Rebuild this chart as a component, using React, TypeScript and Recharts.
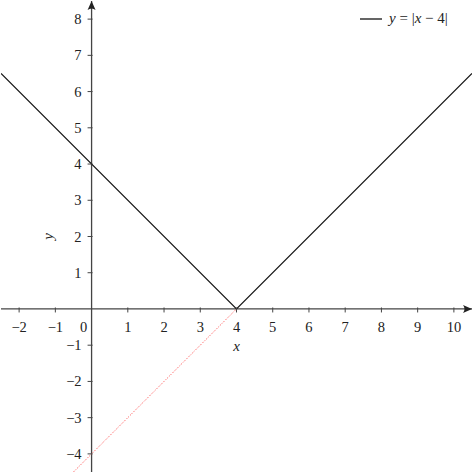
import React from "react";
import {
  ComposedChart,
  Line,
  XAxis,
  YAxis,
  ReferenceLine,
  ReferenceDot,
  Legend,
} from "recharts";

// ---- data ----
const absLine = [
  { x: -2.5, y: 6.5 },
  { x: 4, y: 0 },
  { x: 10.5, y: 6.5 },
];
const redLine = [
  { x: -0.5, y: -4.5 },
  { x: 4, y: 0 },
];
const xTicks = [-2, -1, 1, 2, 3, 4, 5, 6, 7, 8, 9, 10];
const yTicks = [-4, -3, -2, -1, 1, 2, 3, 4, 5, 6, 7, 8];
const xDomain = [-2.5, 10.5];
const yDomain = [-4.5, 8.5];
const originLabel = "0";
const xLabel = "x";
const yLabel = "y";

const FONT = "Liberation Serif";
const AXIS = "#444";
const fmt = (v: number) => (v < 0 ? "\u2212" + Math.abs(v) : String(v));

const XTick = (v: number) => (props: any) => {
  const { cx, cy } = props;
  return (
    <g>
      <line x1={cx} y1={cy - 1.5} x2={cx} y2={cy + 3.5} stroke={AXIS} strokeWidth={1} />
      <text x={cx} y={cy + 23} textAnchor="middle" fontFamily={FONT} fontSize={14.5} fill="#222">
        {fmt(v)}
      </text>
    </g>
  );
};

const YTick = (v: number) => (props: any) => {
  const { cx, cy } = props;
  return (
    <g>
      <line x1={cx - 4} y1={cy} x2={cx + 1} y2={cy} stroke={AXIS} strokeWidth={1} />
      <text x={cx - 10} y={cy + 5} textAnchor="end" fontFamily={FONT} fontSize={14.5} fill="#222">
        {fmt(v)}
      </text>
    </g>
  );
};

const ArrowRight = (props: any) => {
  const { cx, cy } = props;
  return (
    <path
      d={`M${cx},${cy} L${cx - 9},${cy - 4} Q${cx - 6},${cy} ${cx - 9},${cy + 4} Z`}
      fill="#222"
    />
  );
};
const ArrowUp = (props: any) => {
  const { cx, cy } = props;
  return (
    <path
      d={`M${cx},${cy} L${cx - 4},${cy + 9} Q${cx},${cy + 6} ${cx + 4},${cy + 9} Z`}
      fill="#222"
    />
  );
};

const OriginLabel = (props: any) => {
  const { cx, cy } = props;
  return (
    <text x={cx - 8} y={cy + 23} textAnchor="middle" fontFamily={FONT} fontSize={14.5} fill="#222">
      {originLabel}
    </text>
  );
};

const XLabelShape = (props: any) => {
  const { cx, cy } = props;
  return (
    <text x={cx} y={cy + 42} textAnchor="middle" fontFamily={FONT} fontStyle="italic" fontSize={15} fill="#222">
      {xLabel}
    </text>
  );
};
const YLabelShape = (props: any) => {
  const { cx, cy } = props;
  const x = cx - 44;
  return (
    <text
      x={x}
      y={cy}
      textAnchor="middle"
      dominantBaseline="central"
      transform={`rotate(-90 ${x} ${cy})`}
      fontFamily={FONT}
      fontStyle="italic"
      fontSize={15}
      fill="#222"
    >
      {yLabel}
    </text>
  );
};

const LegendContent = () => (
  <div
    style={{
      display: "flex",
      alignItems: "center",
      fontFamily: FONT,
      fontSize: 15,
      color: "#222",
      whiteSpace: "pre",
    }}
  >
    <svg width={22} height={4} style={{ marginRight: 7 }}>
      <line x1={0} y1={2} x2={22} y2={2} stroke="#111" strokeWidth={1.3} />
    </svg>
    <span>
      <i>y</i>{" = |"}<i>x</i>{" \u2212 4|"}
    </span>
  </div>
);

export default function App() {
  return (
    <div style={{ position: "absolute", left: 0, top: 0, width: 475, height: 475, background: "#fff" }}>
      <ComposedChart
        width={475}
        height={475}
        margin={{ top: 1, right: 3, bottom: 3, left: 1 }}
      >
        <XAxis type="number" dataKey="x" domain={xDomain} hide allowDataOverflow />
        <YAxis type="number" dataKey="y" domain={yDomain} hide allowDataOverflow />
        <Legend
          layout="vertical"
          align="center"
          verticalAlign="middle"
          wrapperStyle={{ top: 10, left: 360, width: 115 }}
          content={() => <LegendContent />}
        />
        <ReferenceLine y={0} stroke={AXIS} strokeWidth={1.3} ifOverflow="visible" />
        <ReferenceLine x={0} stroke={AXIS} strokeWidth={1.3} ifOverflow="visible" />
        {xTicks.map((v) => (
          <ReferenceDot key={"xt" + v} x={v} y={0} ifOverflow="visible" shape={XTick(v)} />
        ))}
        {yTicks.map((v) => (
          <ReferenceDot key={"yt" + v} x={0} y={v} ifOverflow="visible" shape={YTick(v)} />
        ))}
        <ReferenceDot x={0} y={0} ifOverflow="visible" shape={OriginLabel} />
        <ReferenceDot x={(xDomain[0] + xDomain[1]) / 2} y={0} ifOverflow="visible" shape={XLabelShape} />
        <ReferenceDot x={0} y={(yDomain[0] + yDomain[1]) / 2} ifOverflow="visible" shape={YLabelShape} />
        <ReferenceDot x={xDomain[1]} y={0} ifOverflow="visible" shape={ArrowRight} />
        <ReferenceDot x={0} y={yDomain[1]} ifOverflow="visible" shape={ArrowUp} />
        <Line
          data={redLine}
          dataKey="y"
          type="linear"
          stroke="#ff4444"
          strokeWidth={1}
          strokeDasharray="1 1.5"
          dot={false}
          activeDot={false}
          isAnimationActive={false}
          legendType="none"
        />
        <Line
          data={absLine}
          dataKey="y"
          name="y = |x − 4|"
          type="linear"
          stroke="#111"
          strokeWidth={1.2}
          dot={false}
          activeDot={false}
          isAnimationActive={false}
        />
      </ComposedChart>
    </div>
  );
}
